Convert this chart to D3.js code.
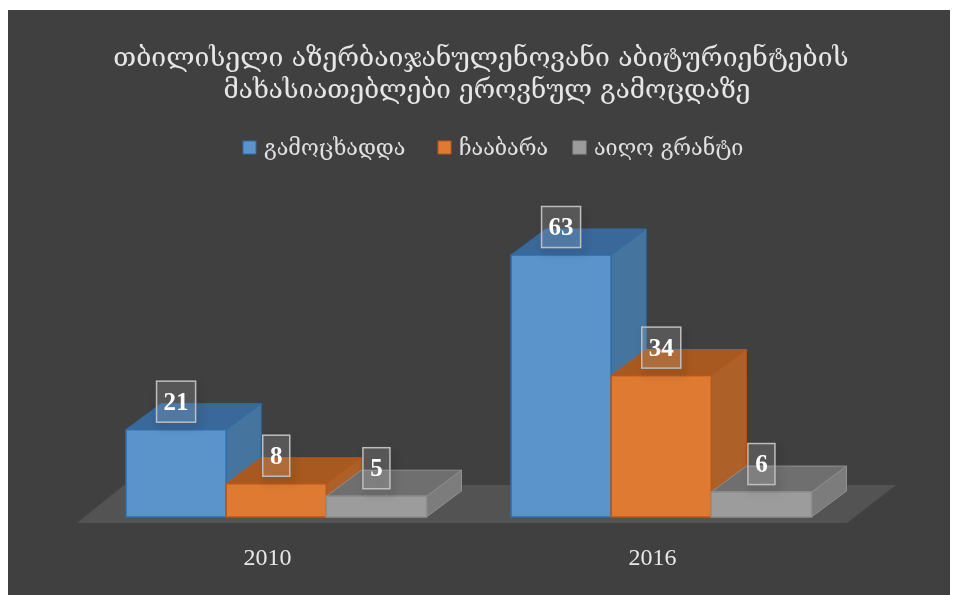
<!DOCTYPE html>
<html><head><meta charset="utf-8">
<script src="https://cdn.jsdelivr.net/npm/d3@7"></script>
<style>html,body{margin:0;padding:0;background:#fff;overflow:hidden}svg{display:block;filter:blur(0.45px)}</style>
</head><body><svg id="c" width="958" height="595"></svg>
<script>
const titleLines = ["თბილისელი აზერბაიჯანულენოვანი აბიტურიენტების","მახასიათებლები ეროვნულ გამოცდაზე"];
const years = ["2010","2016"];
const seriesNames = ["გამოცხადდა","ჩააბარა","აიღო გრანტი"];
const seriesFront = ["#5a94cb","#de7a31","#9c9c9c"];
const seriesTop = ["#3a689a","#a8591f","#6f6f6f"];
const seriesSide = ["#45759f","#ad6028","#7c7c7c"];
const seriesEdge = ["#2f6ca8","#b9571a","#8f8f8f"];
const values2010 = [21,8,5];
const values2016 = [63,34,6];
const valuesByYear = [values2010, values2016];
const legendX = [243,438,573];

const svg = d3.select("#c");
const font = "'Liberation Serif','DejaVu Serif',serif";
const geoFont = "'DejaVu Serif','DejaVu Sans',serif";
const dx = 35, dy = -26;

const defs = svg.append("defs");
const shadow = defs.append("filter").attr("id","labelShadow").attr("x","-50%").attr("y","-50%").attr("width","200%").attr("height","200%");
shadow.append("feDropShadow").attr("dx",3).attr("dy",5).attr("stdDeviation",5).attr("flood-color","#000").attr("flood-opacity",0.35);

svg.append("rect").attr("x",8).attr("y",10).attr("width",942).attr("height",585).attr("fill","#404040");

const y = d3.scaleLinear().domain([0,63]).range([517,255]);
const groupStart = d3.scaleOrdinal().domain(years).range([126,511]);
const x1 = d3.scaleBand().domain(seriesNames).range([0,300.5]);

svg.append("path").attr("d",d3.line()([[77,523],[124,485],[896,485],[847,523]])+"Z").attr("fill","#535353");

const g = svg.append("g");
years.forEach((yr,yi)=>{
  seriesNames.forEach((s,i)=>{
    const v = valuesByYear[yi][i];
    const xl = groupStart(yr)+x1(s), w = x1.bandwidth(), xr = xl+w, yt = y(v), yb = y(0);
    const bar = g.append("g");
    bar.append("path").attr("d",d3.line()([[xr,yt],[xr+dx,yt+dy],[xr+dx,yb+dy],[xr,yb]])+"Z")
      .attr("fill",seriesSide[i]).attr("stroke",seriesEdge[i]).attr("stroke-width",1);
    bar.append("path").attr("d",d3.line()([[xl,yt],[xl+dx,yt+dy],[xr+dx,yt+dy],[xr,yt]])+"Z")
      .attr("fill",seriesTop[i]).attr("stroke",seriesEdge[i]).attr("stroke-width",1);
    bar.append("rect").attr("x",xl).attr("y",yt).attr("width",w).attr("height",yb-yt)
      .attr("fill",seriesFront[i]).attr("stroke",seriesEdge[i]).attr("stroke-width",1.5);
  });
});
years.forEach((yr,yi)=>{
  seriesNames.forEach((s,i)=>{
    const v = valuesByYear[yi][i];
    const cx = groupStart(yr)+x1(s)+x1.bandwidth()/2, cy = y(v)-28;
    const t = String(v), bw = t.length>1?39:27, bh = 41;
    svg.append("rect").attr("x",cx-bw/2).attr("y",cy-bh/2).attr("width",bw).attr("height",bh)
      .attr("fill","#ffffff").attr("fill-opacity",0.1).attr("stroke","#bdbdbd").attr("stroke-width",1.5)
      .attr("filter","url(#labelShadow)");
    svg.append("text").attr("x",cx).attr("y",cy+8).attr("text-anchor","middle")
      .attr("font-family",font).attr("font-weight","bold").attr("font-size",25).attr("fill","#fff").text(t);
  });
});
years.forEach(yr=>{
  svg.append("text").attr("x",groupStart(yr)+141.5).attr("y",565).attr("text-anchor","middle")
    .attr("font-family",font).attr("font-size",24).attr("fill","#e8e8e8").text(yr);
});
titleLines.forEach((l,i)=>{
  svg.append("text").attr("x",[481,487][i]).attr("y",[66,98][i]).attr("text-anchor","middle")
    .attr("font-family",geoFont).attr("font-size",[26.5,26][i]).attr("fill","#e6e6e6").text(l);
});
seriesNames.forEach((s,i)=>{
  svg.append("rect").attr("x",legendX[i]).attr("y",141).attr("width",13).attr("height",13)
    .attr("fill",seriesFront[i]).attr("stroke",seriesEdge[i]);
  svg.append("text").attr("x",legendX[i]+21).attr("y",155)
    .attr("font-family",geoFont).attr("font-size",21.5).attr("fill","#e0e0e0").text(s);
});
</script></body></html>
